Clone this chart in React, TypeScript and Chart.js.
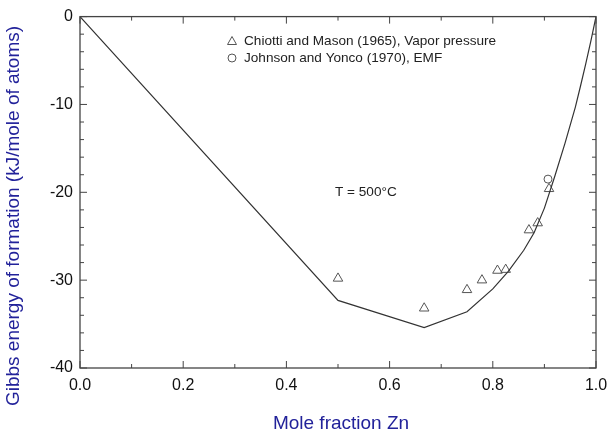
import React, { useEffect, useRef } from "react";
import { Chart, registerables } from "chart.js";

Chart.register(...registerables);

// Calculated Gibbs energy of formation curve
const curveX = [0, 0.5, 0.667, 0.75, 0.8, 0.83, 0.86, 0.88, 0.9, 0.92, 0.94, 0.96, 0.97, 0.98, 0.99, 1.0];
const curveY = [0, -32.3, -35.4, -33.6, -31.0, -29.0, -26.6, -24.6, -21.8, -18.2, -14.4, -10.3, -7.9, -5.4, -2.8, 0];

// Chiotti and Mason (1965), Vapor pressure
const vaporX = [0.5, 0.667, 0.75, 0.779, 0.809, 0.825, 0.87, 0.887, 0.909];
const vaporY = [-29.8, -33.2, -31.1, -30.0, -28.9, -28.8, -24.3, -23.5, -19.6];

// Johnson and Yonco (1970), EMF
const emfX = [0.907];
const emfY = [-18.5];

const xTicks = [0, 0.2, 0.4, 0.6, 0.8, 1.0];
const yTicks = [0, -10, -20, -30, -40];

const legendLabels = [
  "Chiotti and Mason (1965), Vapor pressure",
  "Johnson and Yonco (1970), EMF",
];
const annotationText = "T = 500°C";
const xTitle = "Mole fraction Zn";
const yTitle = "Gibbs energy of formation (kJ/mole of atoms)";

const FONT = "'Liberation Sans', Arial, Helvetica, sans-serif";
const TITLE_COLOR = "#22229a";
const MARK_COLOR = "#555555";

const framePlugin = {
  id: "frameTicks",
  afterDraw(chart: any) {
    const { ctx, chartArea } = chart;
    const xs = chart.scales.x;
    const ys = chart.scales.y;
    const { left, right, top, bottom } = chartArea;
    ctx.save();
    ctx.strokeStyle = "#444";
    ctx.lineWidth = 1.3;
    ctx.strokeRect(left, top, right - left, bottom - top);
    ctx.lineWidth = 1;
    // x ticks (every 0.1; major every 0.2)
    for (let i = 0; i <= 10; i++) {
      const v = i / 10;
      const px = xs.getPixelForValue(v);
      const len = i % 2 === 0 ? 7 : 4;
      ctx.beginPath();
      ctx.moveTo(px, bottom);
      ctx.lineTo(px, bottom - len);
      ctx.moveTo(px, top);
      ctx.lineTo(px, top + len);
      ctx.stroke();
    }
    // y ticks (every 2; major every 10)
    for (let v = 0; v >= -40; v -= 2) {
      const py = ys.getPixelForValue(v);
      const len = v % 10 === 0 ? 7 : 4;
      ctx.beginPath();
      ctx.moveTo(left, py);
      ctx.lineTo(left + len, py);
      ctx.moveTo(right, py);
      ctx.lineTo(right - len, py);
      ctx.stroke();
    }
    // legend
    ctx.strokeStyle = MARK_COLOR;
    ctx.lineWidth = 1;
    const lx = 232;
    const ly1 = 41;
    const ly2 = 58;
    ctx.beginPath();
    ctx.moveTo(lx, ly1 - 4.5);
    ctx.lineTo(lx + 4.5, ly1 + 3.5);
    ctx.lineTo(lx - 4.5, ly1 + 3.5);
    ctx.closePath();
    ctx.stroke();
    ctx.beginPath();
    ctx.arc(lx, ly2, 4, 0, Math.PI * 2);
    ctx.stroke();
    ctx.fillStyle = "#222";
    ctx.font = `13.6px ${FONT}`;
    ctx.textBaseline = "middle";
    ctx.textAlign = "left";
    ctx.fillText(legendLabels[0], 244, ly1);
    ctx.fillText(legendLabels[1], 244, ly2);
    // annotation
    ctx.fillText(annotationText, 335, 192);
    // axis titles
    ctx.fillStyle = TITLE_COLOR;
    ctx.font = `19px ${FONT}`;
    ctx.textAlign = "center";
    ctx.fillText(xTitle, 341, 424);
    ctx.save();
    ctx.translate(14, 216);
    ctx.rotate(-Math.PI / 2);
    ctx.fillText(yTitle, 0, 0);
    ctx.restore();
    ctx.restore();
  },
};

export default function App() {
  const ref = useRef<HTMLCanvasElement | null>(null);
  useEffect(() => {
    if (!ref.current) return;
    const chart = new Chart(ref.current, {
      type: "scatter",
      data: {
        datasets: [
          {
            label: "curve",
            data: curveX.map((x, i) => ({ x, y: curveY[i] })),
            showLine: true,
            borderColor: "#333",
            borderWidth: 1.2,
            pointRadius: 0,
            fill: false,
          },
          {
            label: legendLabels[0],
            data: vaporX.map((x, i) => ({ x, y: vaporY[i] })),
            showLine: false,
            pointStyle: "triangle",
            pointRadius: 5.5,
            borderColor: MARK_COLOR,
            backgroundColor: "rgba(0,0,0,0)",
            borderWidth: 1,
          },
          {
            label: legendLabels[1],
            data: emfX.map((x, i) => ({ x, y: emfY[i] })),
            showLine: false,
            pointStyle: "circle",
            pointRadius: 4,
            borderColor: MARK_COLOR,
            backgroundColor: "rgba(0,0,0,0)",
            borderWidth: 1,
          },
        ],
      },
      options: {
        responsive: false,
        animation: false,
        layout: { padding: { left: 0, right: 20, top: 16, bottom: 0 } },
        plugins: { legend: { display: false }, tooltip: { enabled: false } },
        scales: {
          x: {
            type: "linear",
            min: 0,
            max: 1,
            afterFit: (s: any) => {
              s.height = 68;
            },
            afterBuildTicks: (s: any) => {
              s.ticks = xTicks.map((v) => ({ value: v }));
            },
            grid: { display: false, drawTicks: false, tickLength: 0 },
            border: { display: false },
            ticks: {
              autoSkip: false,
              maxRotation: 0,
              padding: 8,
              color: "#111",
              font: { family: FONT, size: 16 },
              callback: (v: any) => Number(v).toFixed(1),
            },
            title: { display: false },
          },
          y: {
            type: "linear",
            min: -40,
            max: 0,
            afterFit: (s: any) => {
              s.width = 80;
            },
            afterBuildTicks: (s: any) => {
              s.ticks = yTicks.map((v) => ({ value: v }));
            },
            grid: { display: false, drawTicks: false, tickLength: 0 },
            border: { display: false },
            ticks: {
              padding: 7,
              color: "#111",
              font: { family: FONT, size: 16 },
              callback: (v: any) => String(v),
            },
            title: { display: false },
          },
        },
      },
      plugins: [framePlugin],
    } as any);
    return () => chart.destroy();
  }, []);
  return (
    <div style={{ position: "fixed", left: 0, top: 0, width: 616, height: 436, background: "#fff" }}>
      <canvas ref={ref} width={616} height={436} />
    </div>
  );
}
